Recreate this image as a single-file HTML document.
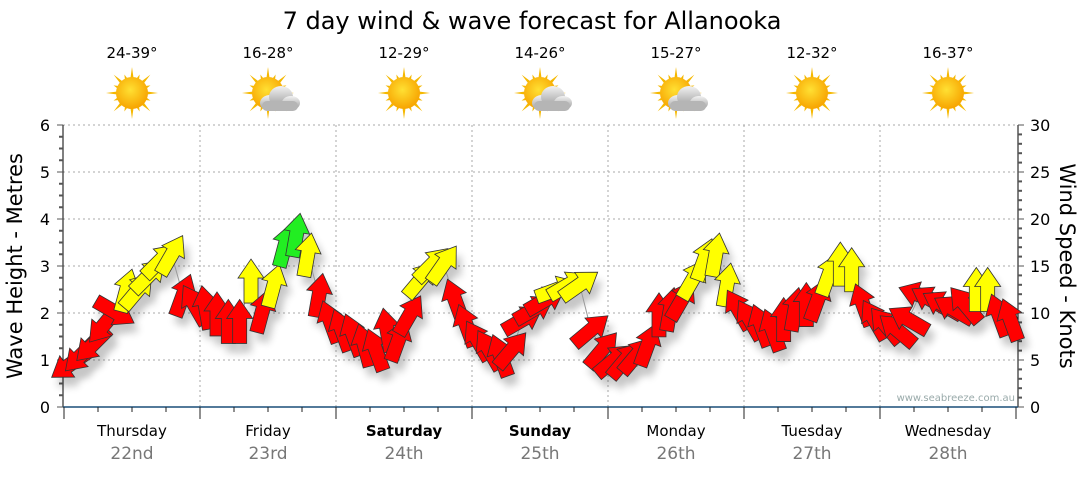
<!DOCTYPE html>
<html><head><meta charset="utf-8"><style>
body{margin:0;background:#fff;font-family:"Liberation Sans","DejaVu Sans",sans-serif}
svg text{font-family:"DejaVu Sans","Liberation Sans",sans-serif}
</style></head><body>
<svg id="c" width="1080" height="475" viewBox="0 0 1080 475" xmlns="http://www.w3.org/2000/svg">
<defs>
<radialGradient id="sun" cx="45%" cy="40%" r="60%"><stop offset="0" stop-color="#ffe033"/><stop offset="1" stop-color="#f7a400"/></radialGradient>
<linearGradient id="cloud" x1="0" y1="0" x2="0" y2="1"><stop offset="0" stop-color="#f2f2f2"/><stop offset="1" stop-color="#9a9a9a"/></linearGradient>
<filter id="sh" x="-50%" y="-50%" width="200%" height="200%"><feGaussianBlur stdDeviation="4"/></filter>
</defs>
<text x="532" y="29" font-size="24" text-anchor="middle">7 day wind &amp; wave forecast for Allanooka</text>
<g id="grid"></g><g id="icons"></g><g id="axes"></g>
<g id="shadows" opacity="0.22"></g><g id="link"></g><g id="arrows"></g>
<text x="1015" y="401" font-size="10" fill="#9aa" text-anchor="end">www.seabreeze.com.au</text>
<text transform="translate(22,266) rotate(-90)" font-size="21" text-anchor="middle">Wave Height - Metres</text>
<text transform="translate(1060,266) rotate(90)" font-size="21" text-anchor="middle">Wind Speed - Knots</text>
</svg>
<script>
const days=["Thursday","Friday","Saturday","Sunday","Monday","Tuesday","Wednesday"];
const dates=["22nd","23rd","24th","25th","26th","27th","28th"];
const temps=["24-39°","16-28°","12-29°","14-26°","15-27°","12-32°","16-37°"];
const cloudy=[0,1,0,1,1,0,0];
const boldDay=[0,0,1,1,0,0,0];
const waveTicks=[0,1,2,3,4,5,6];
const knotTicks=[0,5,10,15,20,25,30];
const knots=[4.5,5.5,6.6,8.7,10.1,12.4,12.4,14.0,15.6,16.2,11.9,10.9,
10.6,9.9,9.1,9.1,13.4,10.2,12.9,17.2,18.3,16.2,11.9,9.1,
8.2,7.7,6.6,6.1,8.2,7.1,9.8,13.6,15.2,15.2,11.4,8.7,
7.1,6.1,5.5,6.1,9.3,10.4,11.4,12.5,13.0,13.0,8.2,6.1,
5.0,5.0,5.5,6.6,9.8,10.4,11.4,13.6,15.7,16.2,13.0,10.4,
9.3,8.7,8.2,9.3,10.4,10.9,11.4,14.1,15.2,14.6,10.9,9.3,
8.7,8.2,9.3,11.9,11.4,10.9,10.4,10.9,12.5,12.5,9.8,9.3];
const dirs=[235,225,225,220,120,15,40,45,45,30,20,330,
350,0,0,0,0,15,15,15,10,10,10,340,
340,340,345,340,350,20,30,40,45,35,340,340,
330,330,340,40,60,60,60,70,60,55,50,40,
50,40,40,20,0,10,30,30,20,10,10,330,
330,340,340,0,10,0,20,20,0,0,340,330,
320,310,300,290,300,300,300,320,0,0,340,340];
const NS="http://www.w3.org/2000/svg";
const X0=64,DW=136,L=63,R=1018,T=125,B=407;
const xH=h=>X0+h*DW/24;
const yM=m=>B-m*(B-T)/6;
const yK=k=>B-k*(B-T)/30;
function mk(tag,at,par){const e=document.createElementNS(NS,tag);for(const k in at)e.setAttribute(k,at[k]);document.getElementById(par).appendChild(e);return e;}
waveTicks.forEach(m=>{if(m>0){const g=mk('line',{x1:L,x2:R,y1:yM(m),y2:yM(m),stroke:'#aaa','stroke-dasharray':'2,3'},'grid');

}});
for(let d=1;d<7;d++){const g=mk('line',{x1:X0+d*DW,x2:X0+d*DW,y1:T,y2:B,stroke:'#aaa','stroke-dasharray':'2,3'},'grid');

}
mk('line',{x1:L,x2:L,y1:T,y2:B,stroke:'#000'},'axes');
mk('line',{x1:R,x2:R,y1:T,y2:B,stroke:'#000'},'axes');
mk('line',{x1:L,x2:R,y1:B,y2:B,stroke:'#1a4f78','stroke-width':1.5},'axes');
for(let i=0;i<=24;i++){const y=yM(i/4);mk('line',{x1:L-(i%4?4:6),x2:L,y1:y,y2:y,stroke:'#555','stroke-width':i%4?2:1},'axes');}
for(let i=0;i<=30;i++){const y=yK(i);mk('line',{x1:R,x2:R+(i%5?4:6),y1:y,y2:y,stroke:'#555','stroke-width':i%5?2:1},'axes');}
waveTicks.forEach(m=>{const t=mk('text',{x:50,y:yM(m)+6,'font-size':16,'text-anchor':'end'},'axes');t.textContent=m;

});
knotTicks.forEach(k=>{const t=mk('text',{x:1030,y:yK(k)+6,'font-size':16},'axes');t.textContent=k;

});
for(let h=0;h<=168;h+=6){mk('line',{x1:xH(h),x2:xH(h),y1:B,y2:B+(h%24?5:12),stroke:'#222'},'axes');}
days.forEach((d,i)=>{const cx=X0+(i+0.5)*DW;
const t=mk('text',{x:cx,y:436,'font-size':15,'text-anchor':'middle','font-weight':boldDay[i]?'bold':'normal'},'axes');t.textContent=d;


const t2=mk('text',{x:cx,y:459,'font-size':17,'text-anchor':'middle',fill:'#777'},'axes');t2.textContent=dates[i];


const t3=mk('text',{x:cx,y:58,'font-size':15,'text-anchor':'middle'},'icons');t3.textContent=temps[i];


const g=mk('g',{transform:`translate(${cx},93)`},'icons');


let rays='';for(let r=0;r<16;r++){const a=r*Math.PI/8,l=r%2?20:26;rays+=`<polygon points="${Math.cos(a-0.12)*14},${Math.sin(a-0.12)*14} ${Math.cos(a)*l},${Math.sin(a)*l} ${Math.cos(a+0.12)*14},${Math.sin(a+0.12)*14}" fill="#f5b800"/>`;}
g.innerHTML=rays+'<circle r="16" fill="url(#sun)"/>'+(cloudy[i]?'<g transform="translate(10,6)"><ellipse cx="-8" cy="4" rx="10" ry="8" fill="url(#cloud)"/><ellipse cx="3" cy="-2" rx="12" ry="11" fill="url(#cloud)"/><ellipse cx="13" cy="4" rx="9" ry="7" fill="url(#cloud)"/><rect x="-16" y="2" width="36" height="10" rx="5" fill="#b5b5b5"/></g>':'');
});
const pts=knots.map((k,i)=>[xH(i*2+1),yK(k)]);
const ln=mk('polyline',{points:pts.map(p=>p.join(',')).join(' '),fill:'none',stroke:'#999','stroke-width':1},'link');


const shape="-7,22 -7,-3 -13,-3 0,-22 13,-3 7,-3 7,22";
knots.forEach((k,i)=>{const [x,y]=pts[i];
const col=k<12?'#ff0000':(k<17?'#ffff00':'#22ee22');
mk('polygon',{points:shape,fill:'#000',filter:'url(#sh)',transform:`translate(${x+5},${y+9}) rotate(${dirs[i]})`},'shadows');
const a=mk('polygon',{points:shape,fill:col,stroke:'#333','stroke-width':0.8,transform:`translate(${x},${y}) rotate(${dirs[i]})`},'arrows');


});
</script>
</body></html>
